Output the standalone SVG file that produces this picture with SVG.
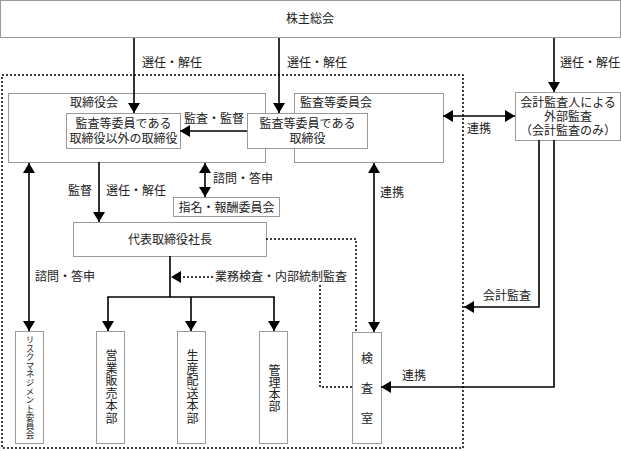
<svg xmlns="http://www.w3.org/2000/svg" width="621" height="451" viewBox="0 0 621 451">
<defs>
<marker id="ah" viewBox="0 0 10 12" refX="10" refY="6" markerWidth="10" markerHeight="12" markerUnits="userSpaceOnUse" orient="auto-start-reverse">
<path d="M0,0 L10,6 L0,12 z" fill="#000"/>
</marker>
<style>
text{font-family:"Liberation Serif","Noto Sans CJK JP",serif;font-size:12px;fill:#222}
.box{fill:#fff;stroke:#999;stroke-width:1}
.ln{fill:none;stroke:#000;stroke-width:1.6}
.arr{fill:none;stroke:#000;stroke-width:1.6;marker-end:url(#ah)}
.dbl{fill:none;stroke:#000;stroke-width:1.6;marker-start:url(#ah);marker-end:url(#ah)}
.dot{fill:none;stroke:#000;stroke-width:1.5;stroke-dasharray:2,2}
.c{text-anchor:middle}
.v{writing-mode:vertical-rl;text-anchor:middle}
</style>
</defs>
<rect width="621" height="451" fill="#fff"/>

<rect class="dot" x="2" y="75" width="461" height="373"/>

<g id="shareholders"><rect class="box" x="0.5" y="0.5" width="620" height="37"/><text class="c" x="310" y="23">株主総会</text></g>

<g id="board"><rect class="box" x="8.5" y="93.5" width="257" height="69"/><text x="70" y="107">取締役会</text></g>
<g id="directors"><rect class="box" x="66.5" y="113.5" width="114" height="35"/><text class="c" x="123.5" y="128">監査等委員である</text><text class="c" x="123.5" y="143">取締役以外の取締役</text></g>

<g id="auditcommittee"><rect class="box" x="294.5" y="93.5" width="149" height="69"/><text x="300" y="107">監査等委員会</text></g>
<g id="auditdirectors"><rect class="box" x="247.5" y="113.5" width="120" height="35"/><text class="c" x="307.5" y="128">監査等委員である</text><text class="c" x="307.5" y="143">取締役</text></g>

<g id="nomination"><rect class="box" x="173.5" y="197.5" width="106" height="19"/><text class="c" x="226.5" y="211.5">指名・報酬委員会</text></g>

<g id="external"><rect class="box" x="515.5" y="92.5" width="105" height="48"/><text class="c" x="568" y="107">会計監査人による</text><text class="c" x="568" y="121">外部監査</text><text class="c" x="568" y="135">（会計監査のみ）</text></g>

<g id="president"><rect class="box" x="73.5" y="222.5" width="193" height="34"/><text class="c" x="170" y="244">代表取締役社長</text></g>

<g id="risk"><rect class="box" x="15.5" y="331.5" width="28" height="112"/><text class="v" x="29" y="387" style="font-size:8.6px">リスクマネジメント委員会</text></g>
<g id="sales"><rect class="box" x="96.5" y="331.5" width="28" height="112"/><text class="v" x="110" y="387" style="letter-spacing:0.5px">営業販売本部</text></g>
<g id="production"><rect class="box" x="177.5" y="331.5" width="28" height="112"/><text class="v" x="191" y="387" style="letter-spacing:0.5px">生産配送本部</text></g>
<g id="admin"><rect class="box" x="259.5" y="331.5" width="28" height="112"/><text class="v" x="273" y="388">管理本部</text></g>
<g id="inspection"><rect class="box" x="352.5" y="332.5" width="29" height="111"/><text class="c" x="367" y="363">検</text><text class="c" x="367" y="393">査</text><text class="c" x="367" y="423">室</text></g>

<g id="connectors">
<line class="arr" x1="134" y1="38" x2="134" y2="113"/>
<line class="arr" x1="279" y1="38" x2="279" y2="113"/>
<line class="arr" x1="554" y1="38" x2="554" y2="92"/>
<line class="arr" x1="247" y1="131" x2="180" y2="131"/>
<line class="dbl" x1="443" y1="116" x2="515" y2="116"/>
<line class="arr" x1="99" y1="162" x2="99" y2="222"/>
<line class="dbl" x1="205" y1="163" x2="205" y2="197"/>
<line class="dbl" x1="29" y1="163" x2="29" y2="331"/>
<line class="dbl" x1="374" y1="163" x2="374" y2="332"/>
<line class="ln" x1="170" y1="256" x2="170" y2="297"/>
<line class="ln" x1="107.2" y1="297" x2="274.8" y2="297"/>
<line class="arr" x1="108" y1="297" x2="108" y2="331"/>
<line class="arr" x1="191" y1="297" x2="191" y2="331"/>
<line class="arr" x1="274" y1="297" x2="274" y2="331"/>
<polyline class="dot" points="266,239 356,239 356,332"/>
<line class="dot" x1="213" y1="277" x2="181" y2="277"/>
<path d="M171,277 L181,271 L181,283 z" fill="#000"/>
<polyline class="dot" points="320,285 320,387 352,387"/>
<polyline class="arr" points="539,140 539,307 464,307"/>
<polyline class="arr" points="554,140 554,387 381,387"/>
</g>

<g id="labels">
<text x="142" y="67">選任・解任</text>
<text x="287" y="67">選任・解任</text>
<text x="560" y="67">選任・解任</text>
<text x="184" y="123">監査・監督</text>
<text x="467" y="133">連携</text>
<text x="68" y="195">監督</text>
<text x="106" y="195">選任・解任</text>
<text x="213" y="183">諮問・答申</text>
<text x="380" y="197">連携</text>
<text x="35" y="281">諮問・答申</text>
<text x="215" y="281">業務検査・内部統制監査</text>
<text x="483" y="300">会計監査</text>
<text x="402" y="380">連携</text>
</g>
</svg>
